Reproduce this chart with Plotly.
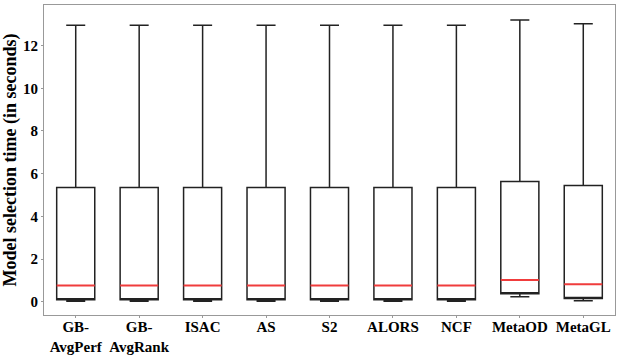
import plotly.graph_objects as go

methods = ['GB-AvgPerf', 'GB-AvgRank', 'ISAC', 'AS', 'S2', 'ALORS', 'NCF', 'MetaOD', 'MetaGL']
method_labels = ['GB-<br>AvgPerf', 'GB-<br>AvgRank', 'ISAC', 'AS', 'S2', 'ALORS', 'NCF', 'MetaOD', 'MetaGL']
lower = [0.02, 0.02, 0.02, 0.02, 0.02, 0.02, 0.02, 0.24, 0.05]
q1 = [0.1, 0.1, 0.1, 0.1, 0.1, 0.1, 0.1, 0.37, 0.15]
median = [0.76, 0.76, 0.76, 0.76, 0.76, 0.76, 0.76, 1.02, 0.82]
q3 = [5.35, 5.35, 5.35, 5.35, 5.35, 5.35, 5.35, 5.63, 5.45]
upper = [12.95, 12.95, 12.95, 12.95, 12.95, 12.95, 12.95, 13.2, 13.02]
y_ticks = [0, 2, 4, 6, 8, 10, 12]

FONT = 'Liberation Serif, Times New Roman, serif'

fig = go.Figure()

# boxes, whiskers and caps
fig.add_trace(go.Box(
    x=methods, q1=q1, median=q1, q3=q3,
    lowerfence=lower, upperfence=upper,
    width=0.6, whiskerwidth=0.5,
    line=dict(color='#222222', width=1.5),
    fillcolor='rgba(0,0,0,0)',
    hoverinfo='skip', showlegend=False,
))

# red median line: a flat box drawn on top
fig.add_trace(go.Box(
    x=methods, q1=median, median=median, q3=median,
    lowerfence=median, upperfence=median,
    width=0.6, whiskerwidth=0,
    line=dict(color='#f03c3c', width=2),
    fillcolor='rgba(0,0,0,0)',
    hoverinfo='skip', showlegend=False,
))

fig.update_layout(
    width=623, height=356,
    margin=dict(l=44, r=8, t=5, b=41),
    plot_bgcolor='white', paper_bgcolor='white',
    boxmode='overlay',
    font=dict(family=FONT, size=15, color='black'),
)
fig.update_xaxes(
    range=[-0.5, 8.5], showline=True, mirror=True, automargin=False,
    linecolor='#999999', linewidth=1, showgrid=False,
    ticks='outside', ticklen=2, tickcolor='#999999',
    tickvals=methods, ticktext=['<b>%s</b>' % t for t in method_labels],
    tickfont=dict(family=FONT, size=15, color='black'),
    ticklabelstandoff=-4,
)
fig.update_yaxes(
    range=[-0.62, 13.9], tickvals=y_ticks,
    ticktext=['<b>%d</b>' % t for t in y_ticks],
    showline=True, mirror=True, linecolor='#999999', linewidth=1,
    showgrid=False, zeroline=False, automargin=False,
    ticks='outside', ticklen=2, tickcolor='#999999',
    tickfont=dict(family=FONT, size=15, color='black'),
    title=dict(text='<b>Model selection time (in seconds)</b>',
               font=dict(family=FONT, size=18, color='black'), standoff=6),
)

fig.write_html('out.html', config={'displayModeBar': False},
               post_script="document.body.style.margin='0';")
